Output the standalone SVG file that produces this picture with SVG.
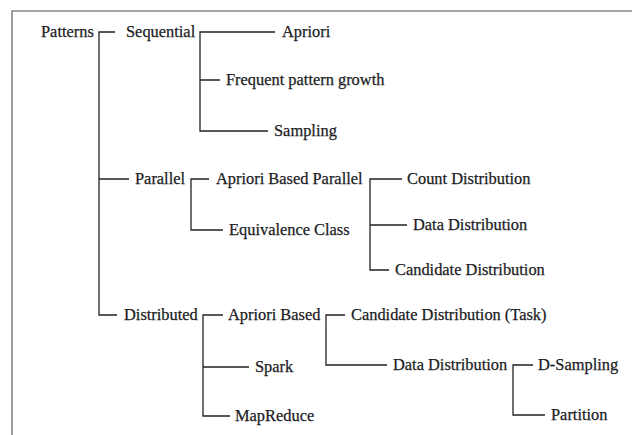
<svg xmlns="http://www.w3.org/2000/svg" width="632" height="435" viewBox="0 0 632 435">
<style>
text{font-family:"Liberation Serif","Times New Roman",serif;font-size:16.4px;fill:#1c1c24;stroke:#1c1c24;stroke-width:0.25}
.c{fill:none;stroke:#222;stroke-width:1.3}
.f{fill:none;stroke:#888;stroke-width:1.6}
</style>
<rect width="632" height="435" fill="#fff"/>
<path class="f" d="M12,436 V11 H633"/>
<g id="connectors">
<path class="c" d="M115,32 H99 V315 H117 M99,179 H129"/>
<path class="c" d="M275,32 H200 V131 H268 M200,80 H220"/>
<path class="c" d="M209,179 H191 V230 H223"/>
<path class="c" d="M402,179 H370 V270 H389 M370,225 H407"/>
<path class="c" d="M223,315 H203 V416 H230 M203,367 H249"/>
<path class="c" d="M345,315 H326 V365 H387"/>
<path class="c" d="M533,365 H513 V415 H545"/>
</g>
<g id="patterns"><text x="41" y="37">Patterns</text></g>
<g id="sequential"><text x="126" y="37">Sequential</text></g>
<g id="apriori"><text x="282" y="37">Apriori</text></g>
<g id="fpgrowth"><text x="226" y="85">Frequent pattern growth</text></g>
<g id="sampling"><text x="274" y="136">Sampling</text></g>
<g id="parallel"><text x="135" y="184">Parallel</text></g>
<g id="aprioriparallel"><text x="216" y="184">Apriori Based Parallel</text></g>
<g id="equivalence"><text x="229" y="235">Equivalence Class</text></g>
<g id="countdist"><text x="407" y="184">Count Distribution</text></g>
<g id="datadist1"><text x="413" y="230">Data Distribution</text></g>
<g id="canddist"><text x="395" y="275">Candidate Distribution</text></g>
<g id="distributed"><text x="124" y="320">Distributed</text></g>
<g id="aprioribased"><text x="228" y="320">Apriori Based</text></g>
<g id="spark"><text x="255" y="372">Spark</text></g>
<g id="mapreduce"><text x="235" y="421">MapReduce</text></g>
<g id="canddisttask"><text x="351" y="320">Candidate Distribution (Task)</text></g>
<g id="datadist2"><text x="393" y="370">Data Distribution</text></g>
<g id="dsampling"><text x="538" y="370">D-Sampling</text></g>
<g id="partition"><text x="551" y="420">Partition</text></g>
</svg>
